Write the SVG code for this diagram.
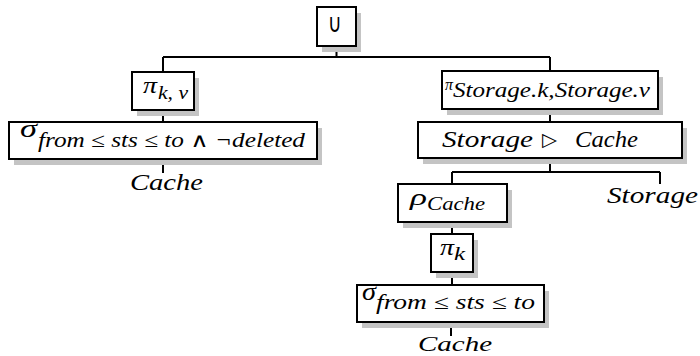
<svg xmlns="http://www.w3.org/2000/svg" width="700" height="356" viewBox="0 0 700 356">
  <style>
    .box { fill: #ffffff; stroke: #000000; stroke-width: 2; }
    .shadow { fill: #c4c4c4; stroke: none; }
    .wire { fill: none; stroke: #000000; stroke-width: 2; }
    .m { font-family: "Liberation Serif", "Liberation Sans", serif; font-style: italic; fill: #000000; }
    .up { font-family: "DejaVu Sans", "Liberation Sans", sans-serif; font-style: normal; }
  </style>

  <!-- tree edges -->
  <g id="connectors">
    <path class="wire" d="M336.5,46 V57 M163,57 H550 M163,57 V72 M550,57 V71"/>
    <path class="wire" d="M163,110 V122 M163,159 V173"/>
    <path class="wire" d="M550,109 V122 M550,158 V172 M452,172 H660 M452,172 V184 M660,172 V184"/>
    <path class="wire" d="M452,222 V234 M452,272 V285 M451,322 V336"/>
  </g>

  <!-- union root -->
  <g id="union">
    <rect class="shadow" x="322" y="13" width="39" height="39"/>
    <rect class="box" x="317" y="7" width="39" height="39"/>
    <text class="up" x="328" y="32" font-size="26" textLength="14" lengthAdjust="spacingAndGlyphs">∪</text>
  </g>

  <!-- left branch -->
  <g id="proj-kv">
    <rect class="shadow" x="137" y="78" width="62" height="38"/>
    <rect class="box" x="132" y="72" width="62" height="38"/>
    <text class="m" x="143" y="93" font-size="24" textLength="14" lengthAdjust="spacingAndGlyphs">π</text>
    <text class="m" x="158" y="99" font-size="19" textLength="30" lengthAdjust="spacingAndGlyphs">k, v</text>
  </g>

  <g id="select-deleted">
    <rect class="shadow" x="14" y="128" width="308" height="37"/>
    <rect class="box" x="9" y="122" width="308" height="37"/>
    <text class="m" x="20" y="137" font-size="25" textLength="17" lengthAdjust="spacingAndGlyphs">σ</text>
    <text class="m" x="38" y="147" font-size="20" textLength="267" lengthAdjust="spacingAndGlyphs">from ≤ sts ≤ to <tspan class="up">∧</tspan> ¬deleted</text>
  </g>

  <g id="cache-left">
    <text class="m" x="130" y="190" font-size="23" textLength="73" lengthAdjust="spacingAndGlyphs">Cache</text>
  </g>

  <!-- right branch -->
  <g id="proj-storage">
    <rect class="shadow" x="447" y="77" width="216" height="38"/>
    <rect class="box" x="442" y="71" width="216" height="38"/>
    <text class="m" x="445" y="90" font-size="17" textLength="8" lengthAdjust="spacingAndGlyphs">π</text>
    <text class="m" x="453" y="97" font-size="20" textLength="197" lengthAdjust="spacingAndGlyphs">Storage.k,Storage.v</text>
  </g>

  <g id="antijoin">
    <rect class="shadow" x="423" y="128" width="264" height="36"/>
    <rect class="box" x="418" y="122" width="264" height="36"/>
    <text class="m" x="442" y="147" font-size="24" textLength="91" lengthAdjust="spacingAndGlyphs">Storage</text>
    <text class="up" x="542" y="146" font-size="19" textLength="15" lengthAdjust="spacingAndGlyphs">▷</text>
    <text class="m" x="575" y="147" font-size="24" textLength="63" lengthAdjust="spacingAndGlyphs">Cache</text>
  </g>

  <g id="storage-leaf">
    <text class="m" x="607" y="203" font-size="23" textLength="91" lengthAdjust="spacingAndGlyphs">Storage</text>
  </g>

  <g id="rename">
    <rect class="shadow" x="403" y="190" width="109" height="38"/>
    <rect class="box" x="398" y="184" width="109" height="38"/>
    <text class="m" x="410" y="205" font-size="24" textLength="17" lengthAdjust="spacingAndGlyphs">ρ</text>
    <text class="m" x="427" y="210" font-size="18" textLength="58" lengthAdjust="spacingAndGlyphs">Cache</text>
  </g>

  <g id="proj-k">
    <rect class="shadow" x="436" y="240" width="42" height="38"/>
    <rect class="box" x="431" y="234" width="42" height="38"/>
    <text class="m" x="440" y="255" font-size="24" textLength="14" lengthAdjust="spacingAndGlyphs">π</text>
    <text class="m" x="454" y="260" font-size="19" textLength="11" lengthAdjust="spacingAndGlyphs">k</text>
  </g>

  <g id="select-range">
    <rect class="shadow" x="362" y="291" width="187" height="37"/>
    <rect class="box" x="357" y="285" width="187" height="37"/>
    <text class="m" x="362" y="300" font-size="25" textLength="14" lengthAdjust="spacingAndGlyphs">σ</text>
    <text class="m" x="376" y="309" font-size="20" textLength="159" lengthAdjust="spacingAndGlyphs">from ≤ sts ≤ to</text>
  </g>

  <g id="cache-bottom">
    <text class="m" x="418" y="351" font-size="22" textLength="74" lengthAdjust="spacingAndGlyphs">Cache</text>
  </g>
</svg>
